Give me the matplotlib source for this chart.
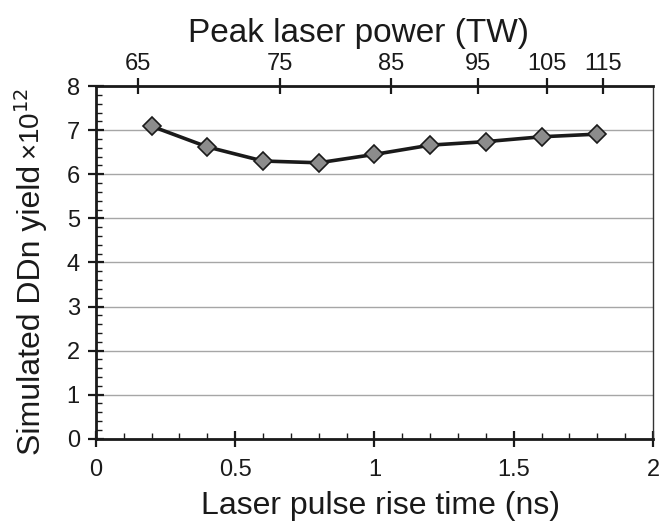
"""Simulated DDn yield vs laser pulse rise time."""

import matplotlib.pyplot as plt
from matplotlib.ticker import MultipleLocator

plt.rcParams["font.family"] = ["Liberation Sans", "DejaVu Sans"]

rise_time = [0.2, 0.4, 0.6, 0.8, 1.0, 1.2, 1.4, 1.6, 1.8]
yield_e12 = [7.09, 6.62, 6.30, 6.26, 6.45, 6.66, 6.74, 6.85, 6.91]

power_labels = ["65", "75", "85", "95", "105", "115"]
power_at_rise = [0.15, 0.66, 1.06, 1.37, 1.62, 1.82]

INK = "#1a1a1a"

fig = plt.figure(figsize=(6.61, 5.28), dpi=100)
ax = fig.add_axes([0.145, 0.169, 0.843, 0.668])

ax.plot(rise_time, yield_e12, color=INK, linewidth=2.6, marker="D",
        markersize=9, markerfacecolor="#8c8c8c", markeredgecolor=INK,
        markeredgewidth=1.2, zorder=3)

ax.set_xlim(0, 2)
ax.set_ylim(0, 8)
ax.xaxis.set_major_locator(MultipleLocator(0.5))
ax.xaxis.set_minor_locator(MultipleLocator(0.1))
ax.yaxis.set_major_locator(MultipleLocator(1))
ax.yaxis.set_minor_locator(MultipleLocator(0.2))
ax.xaxis.set_major_formatter(plt.FuncFormatter(lambda v, p: f"{v:g}"))
ax.grid(True, axis="y", which="major", color="#a6a6a6", linewidth=1.0)
ax.set_axisbelow(True)

ax.tick_params(axis="both", which="major", direction="inout", length=11,
               width=1.6, labelsize=17, color=INK, labelcolor=INK)
ax.tick_params(axis="both", which="minor", direction="in", length=4.5,
               width=1.0, color=INK)
ax.tick_params(axis="x", which="major", pad=9)
ax.tick_params(axis="y", which="major", pad=6)

for side in ["left", "bottom", "top"]:
    ax.spines[side].set_linewidth(2.0)
    ax.spines[side].set_color(INK)
ax.spines["right"].set_linewidth(1.0)
ax.spines["right"].set_color("#333333")

ax.set_xlabel("Laser pulse rise time (ns)", fontsize=23, color=INK, labelpad=7)
ax.xaxis.label.set_x(0.51)

top = ax.secondary_xaxis("top")
top.set_xticks(power_at_rise)
top.set_xticklabels(power_labels)
top.tick_params(direction="inout", length=11, width=1.6, labelsize=17,
                color=INK, labelcolor=INK, pad=2.5)
top.spines["top"].set_visible(False)
top.set_xlabel("Peak laser power (TW)", fontsize=24, color=INK, labelpad=8)
top.xaxis.label.set_x(0.472)

# y label: main text plus a smaller "x10^12" right after it, same baseline
base_x = 40 / 661
ylab = fig.text(base_x, 1 - 455 / 528, "Simulated DDn yield", rotation=90,
                rotation_mode="anchor", ha="left", va="baseline",
                fontsize=23, color=INK)
fig.canvas.draw()
bb = ylab.get_window_extent().transformed(fig.transFigure.inverted())
fig.text(base_x, bb.y1 + 0.01, "×10$^{12}$", rotation=90,
         rotation_mode="anchor", ha="left", va="baseline",
         fontsize=20, color=INK)

fig.savefig("out.png", dpi=100)
plt.close(fig)
